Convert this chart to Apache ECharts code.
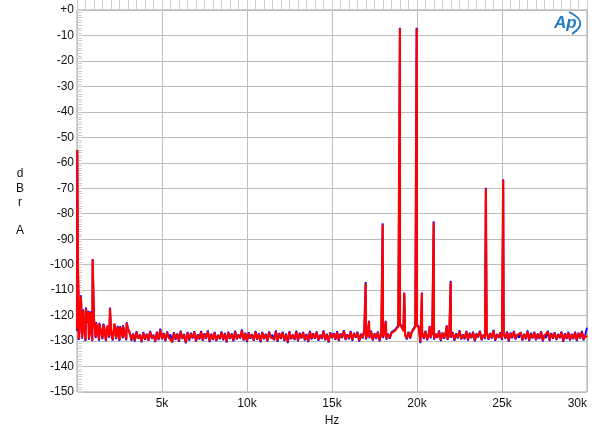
<!DOCTYPE html>
<html><head><meta charset="utf-8">
<script src="https://cdn.jsdelivr.net/npm/echarts@6/dist/echarts.min.js"></script>
<style>html,body{margin:0;padding:0;background:#fff}#c{width:600px;height:435px}</style>
</head><body><div id="c"></div>
<script>
// Frequency grid step of the noise-floor samples (Hz): sample i is at i*100 Hz, 0..30 kHz
const noiseStepHz = 100;
// Red channel noise floor (dBr)
const redNoise = [
-125.5,-129.2,-121.8,-128.7,-123.4,-129.6,-122.6,-129.0,-124.1,-129.8,-121.5,-128.4,-125.3,-129.5,-122.9,-128.8,-124.6,-129.7,-123.8,-128.2,-125.9,-129.4,-123.1,-128.9,-126.2,-129.6,-124.7,-128.5,-126.8,-129.3,-125.1,
-126.9,-129.4,-127.3,-129.8,-126.5,-128.9,-127.7,-130.1,-126.8,-129.2,
-127.5,-129.6,-126.4,-128.7,-127.9,-130.0,-126.7,-129.3,-125.6,-129.0,
-127.2,-129.7,-126.6,-128.5,-127.8,-130.3,-126.9,-129.1,-127.4,-129.9,
-126.3,-128.8,-127.6,-130.6,-126.8,-129.4,-127.1,-128.6,-126.5,-129.8,
-127.7,-129.0,-126.4,-129.5,-127.3,-128.7,-126.2,-130.0,-127.5,-129.2,
-126.8,-129.6,-127.9,-128.9,-126.6,-129.3,-127.2,-130.2,-126.7,-128.8,
-127.4,-129.7,-126.3,-129.0,-127.8,-128.6,-125.9,-129.4,-127.1,-130.0,
-126.9,-128.7,-127.6,-129.5,-126.4,-129.1,-127.3,-130.1,-126.8,-128.9,
-127.5,-129.8,-126.6,-128.5,-127.9,-129.3,-126.2,-129.9,-127.2,-128.8,
-126.7,-129.6,-127.4,-130.4,-126.5,-128.9,-127.8,-129.2,-126.3,-129.7,
-127.1,-128.6,-126.8,-129.4,-127.6,-130.0,-126.4,-129.0,-127.3,-128.7,
-126.6,-129.5,-127.9,-128.8,-126.2,-129.3,-127.5,-130.2,-126.9,-128.5,
-127.2,-129.1,-126.5,-129.6,-127.4,-128.4,-126.1,-129.2,-127.7,-128.9,
-126.4,-129.5,-127.1,-128.3,-126.7,-129.8,-127.5,-128.6,-126.0,-129.0,
-126.9,-128.5,-126.3,-129.4,-127.3,-128.8,-126.6,-129.7,-127.0,-128.4,
-126.5,-129.1,-127.4,-128.7,-126.8,-127.2,-126.0,-125.1,-124.2,-123.6,
-124.5,-126.1,-127.6,-129.0,-126.7,-128.6,-126.4,-125.4,-124.3,-123.8,
-124.7,-130.4,-126.9,-128.8,-126.3,-129.3,-127.2,-128.5,-126.6,-129.1,
-127.5,-128.4,-126.2,-129.6,-127.0,-128.7,-126.5,-129.2,-127.6,-128.3,
-126.8,-129.5,-127.3,-128.6,-126.1,-129.0,-127.7,-128.9,-126.4,-129.4,
-127.1,-128.5,-126.7,-129.7,-127.4,-128.2,-126.3,-129.3,-127.8,-128.8,
-126.5,-129.1,-127.2,-128.6,-126.0,-129.5,-127.6,-128.4,-126.9,-129.2,
-127.3,-128.7,-126.6,-129.8,-127.0,-128.5,-126.4,-129.0,-127.7,-128.3,
-126.8,-129.4,-127.5,-128.9,-126.2,-129.6,-127.1,-128.6,-126.7,-129.3,
-127.4,-128.8,-126.5,-129.7,-127.9,-128.4,-126.3,-129.5,-127.2,-128.7,
-126.9,-129.2,-127.6,-128.5,-126.6,-129.9,-127.3,-128.8,-126.8,-129.4,
-127.5,-128.9,-126.7,-129.6,-127.1,-128.6,-126.4,-129.3,-127.8,-128.5
];
// Blue channel noise floor (dBr)
const blueNoise = [
-126.0,-129.6,-121.2,-129.1,-123.0,-130.0,-122.9,-129.5,-123.6,-130.1,-121.9,-128.9,-124.8,-129.9,-123.3,-129.3,-124.1,-130.0,-124.2,-128.7,-125.4,-129.8,-123.5,-129.2,-125.7,-130.0,-125.1,-128.9,-126.3,-129.7,-125.6,
-126.5,-129.9,-127.0,-130.2,-126.1,-129.1,-127.4,-130.5,-126.4,-129.5,
-127.1,-129.9,-126.0,-129.0,-127.5,-130.4,-126.3,-129.6,-125.1,-129.3,
-126.8,-130.1,-126.2,-128.9,-127.4,-130.6,-126.5,-129.5,-127.0,-130.3,
-125.9,-129.2,-127.2,-130.9,-126.4,-129.8,-126.7,-129.0,-126.1,-130.2,
-127.3,-129.4,-126.0,-129.9,-126.9,-129.1,-125.8,-130.4,-127.1,-129.6,
-126.4,-130.0,-127.5,-129.3,-126.2,-129.7,-126.8,-130.6,-126.3,-129.2,
-127.0,-130.1,-125.9,-129.4,-127.4,-129.0,-125.4,-129.8,-126.7,-130.4,
-126.5,-129.1,-127.2,-129.9,-126.0,-129.5,-126.9,-130.5,-126.4,-129.3,
-127.1,-130.2,-126.2,-128.9,-127.5,-129.7,-125.8,-130.3,-126.8,-129.2,
-126.3,-130.0,-127.0,-130.8,-126.1,-129.3,-127.4,-129.6,-125.9,-130.1,
-126.7,-129.0,-126.4,-129.8,-127.2,-130.4,-126.0,-129.4,-126.9,-129.1,
-126.2,-129.9,-127.5,-129.2,-125.8,-129.7,-127.1,-130.6,-126.5,-128.9,
-126.8,-129.5,-126.1,-130.0,-127.0,-128.8,-125.7,-129.6,-127.3,-129.3,
-126.0,-129.9,-126.7,-128.7,-126.3,-130.2,-127.1,-129.0,-125.6,-129.4,
-126.5,-128.9,-125.9,-129.8,-126.9,-129.2,-126.2,-130.1,-126.6,-128.8,
-126.1,-129.5,-127.0,-129.1,-126.4,-126.8,-125.6,-124.7,-123.8,-123.2,
-124.1,-125.7,-127.2,-129.4,-126.3,-129.0,-126.0,-125.0,-123.9,-123.4,
-124.3,-130.8,-126.5,-129.2,-125.9,-129.7,-126.8,-128.9,-126.2,-129.5,
-127.1,-128.8,-125.8,-130.0,-126.6,-129.1,-126.1,-129.6,-127.2,-128.7,
-126.4,-129.9,-126.9,-129.0,-125.7,-129.4,-127.3,-129.3,-126.0,-129.8,
-126.7,-128.9,-126.3,-130.1,-127.0,-128.6,-125.9,-129.7,-127.4,-129.2,
-126.1,-129.5,-126.8,-129.0,-125.6,-129.9,-127.2,-128.8,-126.5,-129.6,
-126.9,-129.1,-126.2,-130.2,-126.6,-128.9,-126.0,-129.4,-127.3,-128.7,
-126.4,-129.8,-127.1,-129.3,-125.8,-130.0,-126.7,-129.0,-126.3,-129.7,
-127.0,-129.2,-126.1,-130.1,-127.5,-128.8,-125.9,-129.9,-126.8,-129.1,
-126.5,-129.6,-127.2,-128.9,-126.2,-130.3,-126.9,-129.2,-126.4,-129.8,
-127.1,-129.3,-126.3,-130.0,-126.7,-129.0,-126.0,-129.7,-127.4,-124.8
];
// Spectral peaks [Hz, dBr]
const redPeaks = [
[15,-55],[50,-100],[90,-113],[235,-112.6],[370,-118],[530,-117.4],[670,-118.6],[805,-118.8],[920,-98],
[1120,-123],[1310,-123.2],[1550,-123.6],[1590,-123],[1940,-117.1],[2240,-124.4],[2395,-124.4],[2530,-124.6],[2705,-124.2],[2920,-123],
[16980,-107.4],[17180,-122.3],[17980,-84.2],[18160,-122.3],[18995,-7.3],[19250,-111.2],[19980,-7.3],[20290,-111.2],
[20750,-124.2],[20980,-83.4],[21750,-124],[21980,-106.9],[24050,-70.1],[25070,-66.8]
];
const bluePeaks = [
[15,-55],[50,-99],[90,-112],[235,-112],[370,-117.5],[530,-116.8],[670,-118.1],[805,-118.3],[920,-97.8],
[1120,-122.6],[1310,-122.8],[1550,-123.2],[1590,-122.6],[1940,-116.8],[2240,-124],[2395,-124],[2530,-124.2],[2705,-123.8],[2920,-122.6],
[16980,-106.8],[17180,-122],[17980,-83.7],[18160,-122],[18995,-7],[19250,-110.9],[19980,-7],[20290,-110.9],
[20750,-124],[20980,-83],[21750,-123.8],[21980,-106.3],[24050,-69.8],[25070,-66.5]
];
const xTickLabels = {5000:'5k',10000:'10k',15000:'15k',20000:'20k',25000:'25k',30000:'30k'};

function build(noise, peaks){
  const pts = noise.map((v,i)=>[i*noiseStepHz, v]).concat(peaks);
  pts.sort((a,b)=>a[0]-b[0]);
  return pts;
}

const FONT = '"Liberation Sans", Arial, sans-serif';
const chart = echarts.init(document.getElementById('c'), null, {renderer:'canvas'});
chart.setOption({
  animation:false,
  backgroundColor:'#fff',
  grid:{left:77,right:13,top:10,bottom:43,show:true,borderColor:'#a0a0a0',borderWidth:1},
  xAxis:{
    type:'value',min:0,max:30000,interval:5000,
    axisLine:{show:false},
    axisTick:{show:true,inside:true,length:13,lineStyle:{color:'#cfcfcf'}},
    minorTick:{show:true,splitNumber:10,length:13,lineStyle:{color:'#cfcfcf'}},
    splitLine:{show:true,lineStyle:{color:'#bdbdbd',width:1}},
    axisLabel:{color:'#111',fontSize:12,fontFamily:FONT,margin:6,alignMaxLabel:'right',
      formatter:v=>xTickLabels[v]||''}
  },
  yAxis:{
    type:'value',min:-150,max:0,interval:10,
    axisLine:{show:false},
    axisTick:{show:true,inside:true,length:5,lineStyle:{color:'#cfcfcf'}},
    minorTick:{show:true,splitNumber:10,length:5,lineStyle:{color:'#cfcfcf'}},
    splitLine:{show:true,lineStyle:{color:'#bdbdbd',width:1}},
    axisLabel:{color:'#111',fontSize:12,fontFamily:FONT,margin:3,
      formatter:v=>v===0?'+0':String(v)}
  },
  series:[
    {type:'line',data:build(blueNoise,bluePeaks),showSymbol:false,symbol:'none',lineStyle:{color:'#0000ff',width:1.8},z:2},
    {type:'line',data:build(redNoise,redPeaks),showSymbol:false,symbol:'none',lineStyle:{color:'#ff0000',width:2.2},z:3}
  ],
  graphic:[
    {type:'text',x:20,y:167,style:{text:'d\nB\nr\n\nA',fill:'#111',font:'12px '+FONT,lineHeight:14.2,align:'center'}},
    {type:'text',x:332,y:415,style:{text:'Hz',fill:'#111',font:'12px '+FONT,align:'center'}},
    {type:'text',x:554,y:15,style:{text:'Ap',fill:'#1f7cc4',font:'italic bold 17px '+FONT}},
    {type:'bezierCurve',shape:{x1:569,y1:12,cpx1:590,cpy1:22,x2:572,y2:34},style:{stroke:'#1f7cc4',lineWidth:1.8,fill:null}}
  ]
});
</script></body></html>
